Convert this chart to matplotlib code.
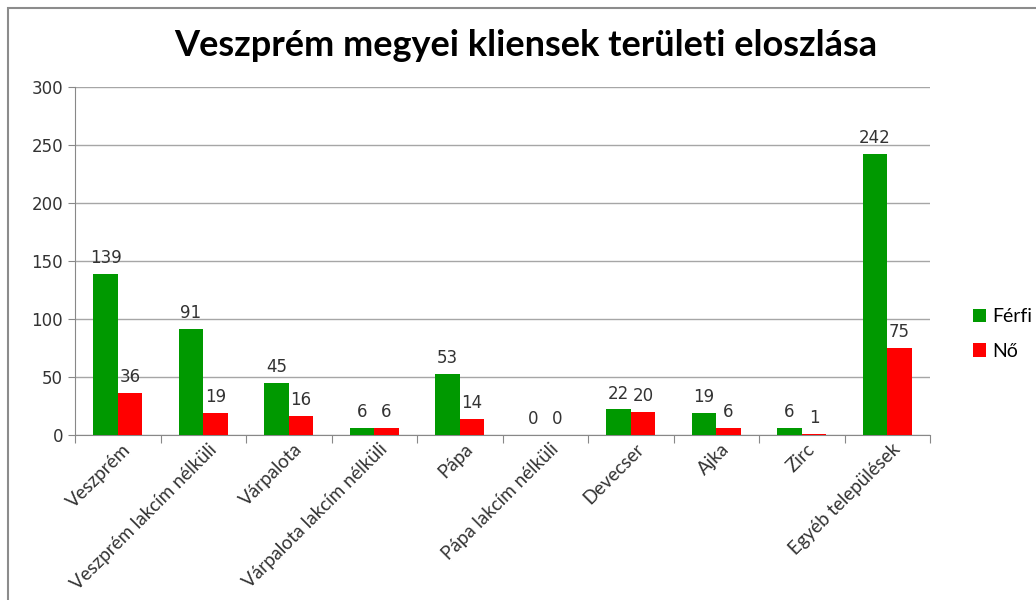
import matplotlib.pyplot as plt
import matplotlib.patches as patches
import numpy as np

categories = ['Veszprém', 'Veszprém lakcím nélküli', 'Várpalota', 'Várpalota lakcím nélküli',
              'Pápa', 'Pápa lakcím nélküli', 'Devecser', 'Ajka', 'Zirc', 'Egyéb települések']
ferfi = [139, 91, 45, 6, 53, 0, 22, 19, 6, 242]
no = [36, 19, 16, 6, 14, 0, 20, 6, 1, 75]
yticks = [0, 50, 100, 150, 200, 250, 300]

GREEN = '#009900'
RED = '#FF0000'
AXIS = '#888888'
TEXT = '#333333'

fig = plt.figure(figsize=(10.36, 6), dpi=100)
fig.patches.append(patches.Rectangle((8 / 1036, -0.1), 1.2, 1 - 8 / 600 + 0.1,
                                     transform=fig.transFigure, fill=False,
                                     edgecolor='#8c8c8c', linewidth=1.5))
ax = fig.add_axes([75 / 1036, 1 - 435 / 600, 855 / 1036, 348 / 600])

x = np.arange(len(categories))
w = 0.286
b1 = ax.bar(x - w / 2, ferfi, w, color=GREEN, label='Férfi', zorder=3)
b2 = ax.bar(x + w / 2, no, w, color=RED, label='Nő', zorder=3)

for bars in (b1, b2):
    for r in bars:
        ax.text(r.get_x() + r.get_width() / 2, r.get_height() + 6, f'{int(r.get_height())}',
                ha='center', va='bottom', fontsize=12, color=TEXT, family='DejaVu Sans')

ax.set_xlim(-0.5, len(categories) - 0.5)
ax.set_ylim(0, 300)
ax.set_yticks(yticks)
ax.yaxis.grid(True, color='#a6a6a6', linewidth=1, zorder=0)
ax.tick_params(axis='y', colors=AXIS, labelcolor=TEXT, labelsize=12, length=5, direction='out')
ax.set_xticks(np.arange(-0.5, len(categories), 1), minor=False)
ax.set_xticklabels([])
ax.tick_params(axis='x', colors=AXIS, length=6, direction='out')
ax.set_xticks(x + 0.05, minor=True)
ax.set_xticklabels(categories, minor=True, rotation=45, ha='right', rotation_mode='anchor',
                   fontsize=13.5, color=TEXT, family='Lato')
ax.tick_params(axis='x', which='minor', length=0, pad=4)
for s in ('top', 'right'):
    ax.spines[s].set_visible(False)
ax.spines['left'].set_color(AXIS)
ax.spines['bottom'].set_color(AXIS)
for lab in ax.get_yticklabels():
    lab.set_family('DejaVu Sans')

fig.text(526 / 1036, 1 - 45 / 600, 'Veszprém megyei kliensek területi eloszlása',
         ha='center', va='center', fontsize=26, fontweight='bold', family='Lato', color='black')

fig.legend(handles=[b1, b2], loc='center left', bbox_to_anchor=(955 / 1036, 1 - 334 / 600),
           frameon=False, handlelength=0.7, handleheight=0.7, handletextpad=0.3,
           labelspacing=0.9, prop={'family': 'Lato', 'size': 14})

fig.savefig('out.png', dpi=100)
